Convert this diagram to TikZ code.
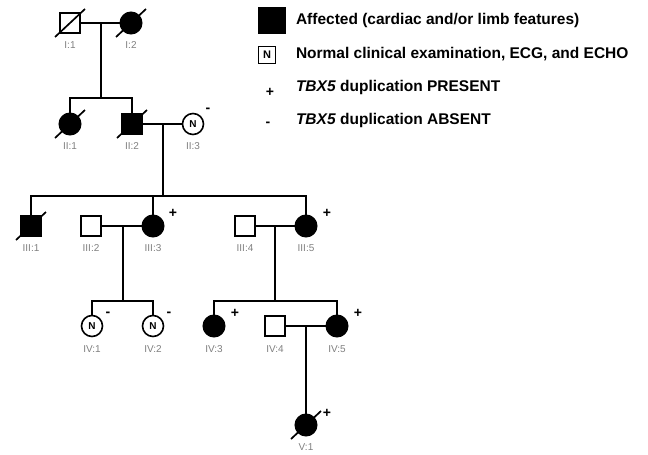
\documentclass[tikz,border=0pt]{standalone}
\usepackage{fontspec}
\setmainfont{Liberation Sans}
\begin{document}
\begin{tikzpicture}[x=1pt,y=-1pt,
  line width=2pt,
  male/.style={draw, rectangle, minimum size=20pt, inner sep=0pt},
  female/.style={draw, circle, minimum size=21pt, inner sep=0pt},
  aff/.style={fill=black},
  normal/.style={font=\bfseries\fontsize{10}{10}\selectfont, line width=1.6pt},
  lab/.style={font=\fontsize{10}{10}\selectfont, text=black!50},
  sign/.style={font=\bfseries\fontsize{14}{14}\selectfont, inner sep=0pt},
  legtext/.style={anchor=west, font=\bfseries\fontsize{15.5}{17}\selectfont, inner sep=0pt},
  dead/.style={line width=1.7pt}
]
\useasboundingbox (0,0) rectangle (648,455);

% Generation I
\node[male] (I1) at (70,23) {};
\node[female,aff] (I2) at (131,23) {};
% Generation II
\node[female,aff] (II1) at (70,124) {};
\node[male,aff] (II2) at (132,124) {};
\node[female,normal] (II3) at (193,124) {N};
% Generation III
\node[male,aff] (III1) at (31,226) {};
\node[male] (III2) at (91,226) {};
\node[female,aff] (III3) at (153,226) {};
\node[male] (III4) at (245,226) {};
\node[female,aff] (III5) at (306,226) {};
% Generation IV
\node[female,normal] (IV1) at (92,326) {N};
\node[female,normal] (IV2) at (153,326) {N};
\node[female,aff] (IV3) at (214,326) {};
\node[male] (IV4) at (275,326) {};
\node[female,aff] (IV5) at (337,326) {};
% Generation V
\node[female,aff] (V1) at (306,425) {};

% couple / sibship coordinates
\coordinate (m1) at (101,23);  \coordinate (s1) at (101,98);
\coordinate (m2) at (163,124); \coordinate (s2) at (163,196);
\coordinate (m3) at (123,226); \coordinate (s3) at (123,301);
\coordinate (m4) at (275,226); \coordinate (s4) at (275,301);
\coordinate (m5) at (306,326);

% connectors
\draw (I1) -- (I2);
\draw (m1) -- (s1);
\draw (II1.north) |- (s1) -| (II2.north);

\draw (II2) -- (II3);
\draw (m2) -- (s2);
\draw (III1.north) |- (s2) -| (III5.north);
\draw (III3.north) -- (III3.north |- s2);

\draw (III2) -- (III3);
\draw (m3) -- (s3);
\draw (IV1.north) |- (s3) -| (IV2.north);

\draw (III4) -- (III5);
\draw (m4) -- (s4);
\draw (IV3.north) |- (s4) -| (IV5.north);

\draw (IV4) -- (IV5);
\draw (m5) -- (V1.north);

% deceased slashes
\foreach \n in {I1,I2,II1,II2,III1,V1}
  \draw[dead] ([shift={(-15,14)}]\n.center) -- ([shift={(15,-14)}]\n.center);

% labels
\node[lab] (lI1) at (70,45) {I:1};
\node[lab] (lI2) at (131,45) {I:2};
\node[lab] (lII1) at (70,146) {II:1};
\node[lab] (lII2) at (132,146) {II:2};
\node[lab] (lII3) at (193,146) {II:3};
\node[lab] (lIII1) at (31,248) {III:1};
\node[lab] (lIII2) at (91,248) {III:2};
\node[lab] (lIII3) at (153,248) {III:3};
\node[lab] (lIII4) at (245,248) {III:4};
\node[lab] (lIII5) at (306,248) {III:5};
\node[lab] (lIV1) at (92,349) {IV:1};
\node[lab] (lIV2) at (153,349) {IV:2};
\node[lab] (lIV3) at (214,349) {IV:3};
\node[lab] (lIV4) at (275,349) {IV:4};
\node[lab] (lIV5) at (337,349) {IV:5};
\node[lab] (lV1) at (306,447) {V:1};

% signs
\node[sign] (pIII3) at (173,213) {+};
\node[sign] (pIII5) at (327,213) {+};
\node[sign] (pIV3) at (235,313) {+};
\node[sign] (pIV5) at (358,313) {+};
\node[sign] (pV1) at (327,413) {+};
\node[sign] (mII3) at (208,110) {-};
\node[sign] (mIV1) at (108,314) {-};
\node[sign] (mIV2) at (169,314) {-};

% legend
\node[draw, fill=black, minimum width=26pt, minimum height=25pt, inner sep=0pt] (legA) at (272,20.5) {};
\node[draw, line width=1.2pt, minimum size=17pt, inner sep=0pt, font=\bfseries\fontsize{11}{11}\selectfont] (legN) at (267,55) {N};
\node[sign] (legP) at (270,92) {+};
\node[sign] (legM) at (268,124) {-};
\node[legtext] (tA) at (295,20) {Affected (cardiac and/or limb features)};
\node[legtext] (tN) at (295,54) {Normal clinical examination, ECG, and ECHO};
\node[legtext] (tP) at (295,87) {\textit{TBX5} duplication PRESENT};
\node[legtext] (tM) at (295,120) {\textit{TBX5} duplication ABSENT};
\end{tikzpicture}
\end{document}
